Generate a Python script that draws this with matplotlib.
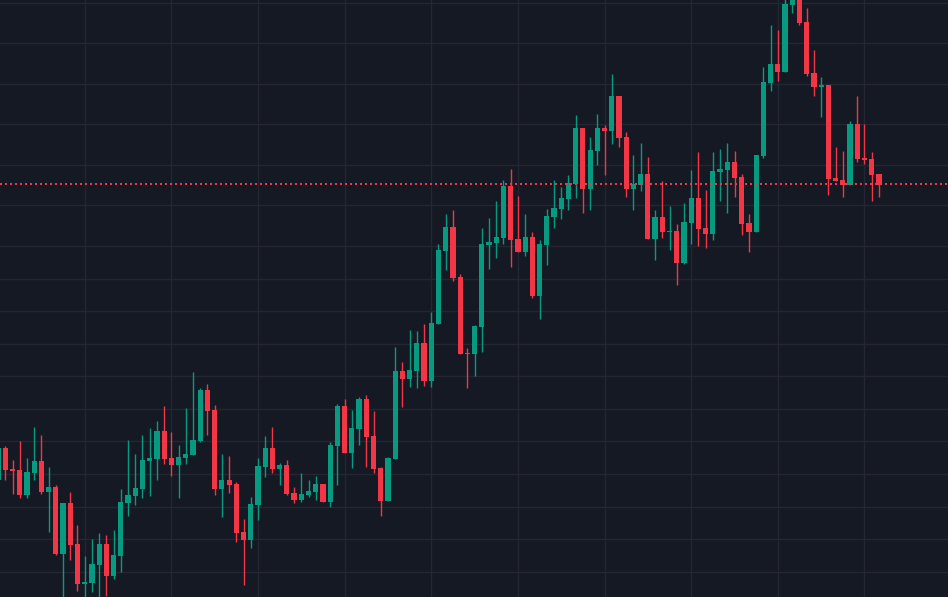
import matplotlib
matplotlib.use("Agg")
import matplotlib.pyplot as plt
import numpy as np

opens  = [120,152,131,130,105,127,139,108,113,46,97,56,16,17,35,56,24,44,97,104,111,139,141,169,142,135,142,145,159,210,
          190,111,120,116,68,60,95,133,152,131,135,107,100,105,108,116,98,154,194,147,171,201,164,132,99,141,229,221,229,257,
          219,276,349,373,323,247,246,273,355,357,362,414,361,348,363,304,355,383,391,401,416,472,411,449,472,469,504,463,411,415,
          426,361,383,368,369,337,377,402,372,366,428,430,438,423,377,368,444,517,536,528,595,608,578,527,513,515,422,420,415,476,
          442,441,426]
highs  = [154,154,140,159,142,173,165,133,115,97,108,75,44,61,67,65,70,111,160,146,165,172,179,194,168,155,192,228,212,216,
          195,146,144,118,81,103,142,164,173,137,140,113,127,120,124,116,158,196,201,190,203,205,189,133,143,253,238,270,269,276,
          288,356,386,390,326,252,275,372,382,399,420,431,404,386,368,360,391,420,413,425,485,472,463,486,475,526,504,468,445,457,
          443,390,419,394,376,397,430,448,410,448,451,457,449,426,386,445,533,575,570,602,610,612,592,550,523,515,453,449,479,504,
          476,448,426]
lows   = [118,120,106,102,102,120,106,68,45,-2,40,9,-2,8,-2,4,21,28,84,95,102,104,120,136,124,102,136,145,158,165,
          105,83,107,58,15,52,80,123,127,115,105,97,98,103,100,98,93,115,147,132,155,133,127,84,99,141,193,213,212,214,
          213,276,330,319,246,212,224,248,331,342,356,333,348,344,302,281,335,372,381,390,402,387,390,435,425,456,453,403,390,409,
          361,340,362,350,315,336,356,354,352,360,399,387,403,365,348,368,442,509,519,528,587,575,524,504,483,405,419,403,415,438,
          436,399,403]
closes = [152,130,129,105,128,139,108,113,46,97,55,16,18,36,56,24,45,98,105,112,140,142,169,141,135,143,146,160,210,189,
          111,120,115,67,60,96,134,152,131,135,106,100,106,109,116,98,155,194,147,172,201,163,131,99,142,229,221,230,257,219,
          277,350,373,322,246,246,274,356,358,363,414,360,348,363,304,356,384,392,402,417,472,411,450,472,469,504,462,411,416,426,
          361,383,368,369,337,378,402,371,366,429,431,438,422,376,368,445,518,536,528,596,603,577,526,513,515,421,419,415,476,441,
          440,425,415]
price_line = 416

up_color = "#089981"
down_color = "#F23645"
bg = "#151924"
grid_color = "#242733"

grid_prices = [597,557,516,476,435,395,354,321,289,256,224,191,159,126,93,61,28]
grid_candles = [12,24,36,48,60,72,84,96,108,120]

fig = plt.figure(figsize=(9.48, 5.97), dpi=100, facecolor=bg)
ax = fig.add_axes([0, 0, 1, 1], facecolor=bg)

idx = np.arange(len(opens))
o = np.array(opens); h = np.array(highs); l = np.array(lows); c = np.array(closes)
colors = [up_color if cc >= oo else down_color for oo, cc in zip(o, c)]

for y in grid_prices:
    ax.axhline(y, color=grid_color, lw=1, zorder=0)
for x in grid_candles:
    ax.axvline(x, color=grid_color, lw=1, zorder=0)

ax.vlines(idx, l, h, colors=colors, lw=1, zorder=2)
bottoms = np.minimum(o, c)
heights = np.maximum(np.abs(c - o), 1.2)
ax.bar(idx, heights, bottom=bottoms, width=0.72, color=colors, linewidth=0, zorder=3)

ax.axhline(price_line, color=down_color, lw=1.3, ls=(0, (1, 2)), zorder=4, antialiased=False)

ax.set_xlim(0.266, 131.57)
ax.set_ylim(3, 600)
ax.set_xticks([]); ax.set_yticks([])
for s in ax.spines.values():
    s.set_visible(False)

fig.savefig("out.png", dpi=100, facecolor=bg)
